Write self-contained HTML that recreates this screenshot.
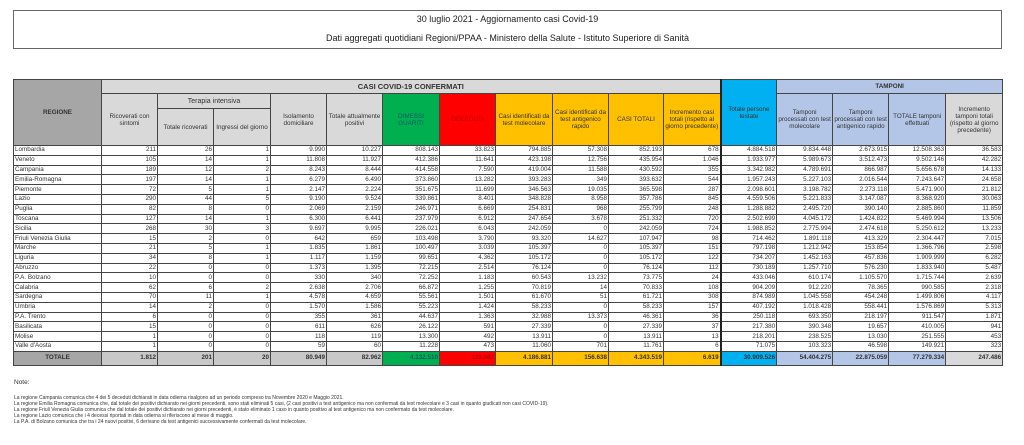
<!DOCTYPE html>
<html><head><meta charset="utf-8"><style>
*{margin:0;padding:0;box-sizing:border-box}
body{width:1024px;height:445px;background:#fff;font-family:"Liberation Sans",sans-serif;color:#333;position:relative;overflow:hidden}
#title{position:absolute;left:13px;top:10px;width:989px;height:39px;border:1px solid #666;text-align:center;font-size:9px;color:#222}
#title div{position:absolute;left:0;right:0}
table{position:absolute;left:13px;top:79px;border-collapse:collapse;table-layout:fixed;width:989px;font-size:6.3px}
td,th{border:1px solid #444;padding:0 1px;overflow:hidden;white-space:nowrap}
th{font-weight:normal;text-align:center;white-space:normal;line-height:7px;background:#d9d9d9}
tbody td{text-align:right;height:9.8px;line-height:8px}
tbody td:first-child{text-align:left}
.g{background:#00b050!important;color:#156}
.r{background:#f00!important;color:#b00}
.y{background:#ffc000!important}
.c{background:#00b0f0!important}
.b{background:#b4c6e7!important}
.gr{background:#d9d9d9!important}
.reg{background:#a6a6a6!important;font-weight:bold}
tr.tot td{background:#c8c8c8;font-weight:bold;height:14px;text-align:right}
tr.tot td:first-child{text-align:center}
.tk{border-left:2px solid #222}
#notes{position:absolute;left:14px;top:378px;font-size:5px;line-height:6px;color:#333}
</style></head><body>
<div id="title"><div style="top:3px">30 luglio 2021 - Aggiornamento casi Covid-19</div><div style="top:22px">Dati aggregati quotidiani Regioni/PPAA - Ministero della Salute - Istituto Superiore di Sanità</div></div>
<table>
<colgroup><col style="width:88px"><col style="width:56px"><col style="width:56px"><col style="width:57px"><col style="width:56px"><col style="width:56px"><col style="width:57px"><col style="width:56px"><col style="width:57px"><col style="width:56px"><col style="width:55px"><col style="width:57px"><col style="width:56px"><col style="width:56px"><col style="width:56px"><col style="width:57px"><col style="width:57px"></colgroup>
<thead>
<tr style="height:14px"><th rowspan="3" class="reg">REGIONE</th><th colspan="11" style="font-weight:bold;font-size:7.5px">CASI COVID-19 CONFERMATI</th><th rowspan="3" class="c tk">Totale persone testate</th><th colspan="4" class="b" style="font-weight:bold">TAMPONI</th></tr>
<tr style="height:15px"><th rowspan="2">Ricoverati con sintomi</th><th colspan="2" style="font-size:7px">Terapia intensiva</th><th rowspan="2">Isolamento domiciliare</th><th rowspan="2">Totale attualmente positivi</th><th rowspan="2" class="g">DIMESSI<br>GUARITI</th><th rowspan="2" class="r">DECEDUTI</th><th rowspan="2" class="y">Casi identificati da test molecolare</th><th rowspan="2" class="y">Casi identificati da test antigenico rapido</th><th rowspan="2" class="y">CASI TOTALI</th><th rowspan="2" class="y">Incremento casi totali (rispetto al giorno precedente)</th><th rowspan="2" class="b">Tamponi processati con test molecolare</th><th rowspan="2" class="b">Tamponi processati con test antigenico rapido</th><th rowspan="2" class="b">TOTALE tamponi effettuati</th><th rowspan="2" class="gr">Incremento tamponi totali (rispetto al giorno precedente)</th></tr>
<tr style="height:37px"><th>Totale ricoverati</th><th>Ingressi del giorno</th></tr>
</thead>
<tbody>
<tr><td>Lombardia</td><td>211</td><td>26</td><td>1</td><td>9.990</td><td>10.227</td><td>808.143</td><td>33.823</td><td>794.885</td><td>57.308</td><td>852.193</td><td>678</td><td class="tk">4.884.518</td><td>9.834.448</td><td>2.673.915</td><td>12.508.363</td><td>36.583</td></tr>
<tr><td>Veneto</td><td>105</td><td>14</td><td>1</td><td>11.808</td><td>11.927</td><td>412.386</td><td>11.641</td><td>423.198</td><td>12.756</td><td>435.954</td><td>1.046</td><td class="tk">1.933.977</td><td>5.989.673</td><td>3.512.473</td><td>9.502.146</td><td>42.282</td></tr>
<tr><td>Campania</td><td>189</td><td>12</td><td>2</td><td>8.243</td><td>8.444</td><td>414.558</td><td>7.590</td><td>419.004</td><td>11.588</td><td>430.592</td><td>355</td><td class="tk">3.342.982</td><td>4.789.691</td><td>866.987</td><td>5.656.678</td><td>14.133</td></tr>
<tr><td>Emilia-Romagna</td><td>197</td><td>14</td><td>1</td><td>6.279</td><td>6.490</td><td>373.860</td><td>13.282</td><td>393.283</td><td>349</td><td>393.632</td><td>544</td><td class="tk">1.957.243</td><td>5.227.103</td><td>2.016.544</td><td>7.243.647</td><td>24.658</td></tr>
<tr><td>Piemonte</td><td>72</td><td>5</td><td>1</td><td>2.147</td><td>2.224</td><td>351.675</td><td>11.699</td><td>346.563</td><td>19.035</td><td>365.598</td><td>287</td><td class="tk">2.098.601</td><td>3.198.782</td><td>2.273.118</td><td>5.471.900</td><td>21.812</td></tr>
<tr><td>Lazio</td><td>290</td><td>44</td><td>5</td><td>9.190</td><td>9.524</td><td>339.861</td><td>8.401</td><td>348.828</td><td>8.958</td><td>357.786</td><td>845</td><td class="tk">4.559.506</td><td>5.221.833</td><td>3.147.087</td><td>8.368.920</td><td>30.063</td></tr>
<tr><td>Puglia</td><td>82</td><td>8</td><td>0</td><td>2.069</td><td>2.159</td><td>246.971</td><td>6.669</td><td>254.831</td><td>968</td><td>255.799</td><td>248</td><td class="tk">1.288.882</td><td>2.495.720</td><td>390.140</td><td>2.885.860</td><td>11.859</td></tr>
<tr><td>Toscana</td><td>127</td><td>14</td><td>1</td><td>6.300</td><td>6.441</td><td>237.979</td><td>6.912</td><td>247.654</td><td>3.678</td><td>251.332</td><td>720</td><td class="tk">2.502.699</td><td>4.045.172</td><td>1.424.822</td><td>5.469.994</td><td>13.506</td></tr>
<tr><td>Sicilia</td><td>268</td><td>30</td><td>3</td><td>9.697</td><td>9.995</td><td>226.021</td><td>6.043</td><td>242.059</td><td>0</td><td>242.059</td><td>724</td><td class="tk">1.988.852</td><td>2.775.994</td><td>2.474.618</td><td>5.250.612</td><td>13.233</td></tr>
<tr><td>Friuli Venezia Giulia</td><td>15</td><td>2</td><td>0</td><td>642</td><td>659</td><td>103.498</td><td>3.790</td><td>93.320</td><td>14.627</td><td>107.947</td><td>98</td><td class="tk">714.462</td><td>1.891.118</td><td>413.329</td><td>2.304.447</td><td>7.015</td></tr>
<tr><td>Marche</td><td>21</td><td>5</td><td>1</td><td>1.835</td><td>1.861</td><td>100.497</td><td>3.039</td><td>105.397</td><td>0</td><td>105.397</td><td>151</td><td class="tk">797.198</td><td>1.212.942</td><td>153.854</td><td>1.366.796</td><td>2.598</td></tr>
<tr><td>Liguria</td><td>34</td><td>8</td><td>1</td><td>1.117</td><td>1.159</td><td>99.651</td><td>4.362</td><td>105.172</td><td>0</td><td>105.172</td><td>122</td><td class="tk">734.207</td><td>1.452.163</td><td>457.836</td><td>1.909.999</td><td>6.282</td></tr>
<tr><td>Abruzzo</td><td>22</td><td>0</td><td>0</td><td>1.373</td><td>1.395</td><td>72.215</td><td>2.514</td><td>76.124</td><td>0</td><td>76.124</td><td>112</td><td class="tk">730.189</td><td>1.257.710</td><td>576.230</td><td>1.833.940</td><td>5.487</td></tr>
<tr><td>P.A. Bolzano</td><td>10</td><td>0</td><td>0</td><td>330</td><td>340</td><td>72.252</td><td>1.183</td><td>60.543</td><td>13.232</td><td>73.775</td><td>24</td><td class="tk">433.046</td><td>610.174</td><td>1.105.570</td><td>1.715.744</td><td>2.639</td></tr>
<tr><td>Calabria</td><td>62</td><td>6</td><td>2</td><td>2.638</td><td>2.706</td><td>66.872</td><td>1.255</td><td>70.819</td><td>14</td><td>70.833</td><td>108</td><td class="tk">904.209</td><td>912.220</td><td>78.365</td><td>990.585</td><td>2.318</td></tr>
<tr><td>Sardegna</td><td>70</td><td>11</td><td>1</td><td>4.578</td><td>4.659</td><td>55.561</td><td>1.501</td><td>61.670</td><td>51</td><td>61.721</td><td>308</td><td class="tk">874.989</td><td>1.045.558</td><td>454.248</td><td>1.499.806</td><td>4.117</td></tr>
<tr><td>Umbria</td><td>14</td><td>2</td><td>0</td><td>1.570</td><td>1.586</td><td>55.223</td><td>1.424</td><td>58.233</td><td>0</td><td>58.233</td><td>157</td><td class="tk">407.192</td><td>1.018.428</td><td>558.441</td><td>1.576.869</td><td>5.313</td></tr>
<tr><td>P.A. Trento</td><td>6</td><td>0</td><td>0</td><td>355</td><td>361</td><td>44.637</td><td>1.363</td><td>32.988</td><td>13.373</td><td>46.361</td><td>36</td><td class="tk">250.118</td><td>693.350</td><td>218.197</td><td>911.547</td><td>1.871</td></tr>
<tr><td>Basilicata</td><td>15</td><td>0</td><td>0</td><td>611</td><td>626</td><td>26.122</td><td>591</td><td>27.339</td><td>0</td><td>27.339</td><td>37</td><td class="tk">217.380</td><td>390.348</td><td>19.657</td><td>410.005</td><td>941</td></tr>
<tr><td>Molise</td><td>1</td><td>0</td><td>0</td><td>118</td><td>119</td><td>13.300</td><td>492</td><td>13.911</td><td>0</td><td>13.911</td><td>13</td><td class="tk">218.201</td><td>238.525</td><td>13.030</td><td>251.555</td><td>453</td></tr>
<tr><td>Valle d'Aosta</td><td>1</td><td>0</td><td>0</td><td>59</td><td>60</td><td>11.228</td><td>473</td><td>11.060</td><td>701</td><td>11.761</td><td>6</td><td class="tk">71.075</td><td>103.323</td><td>46.598</td><td>149.921</td><td>323</td></tr>
<tr class="tot"><td class="reg">TOTALE</td><td>1.812</td><td>201</td><td>20</td><td>80.949</td><td>82.962</td><td class="g">4.132.510</td><td class="r">128.047</td><td class="y">4.186.881</td><td class="y">156.638</td><td class="y">4.343.519</td><td class="y">6.619</td><td class="c tk">30.909.526</td><td class="b">54.404.275</td><td class="b">22.875.059</td><td class="b">77.279.334</td><td class="gr">247.486</td></tr>
</tbody></table>
<div style="position:absolute;left:14px;top:379px;font-size:6.5px;color:#333">Note:</div>
<div id="notes" style="top:395px">
La regione Campania comunica che 4 dei 5 deceduti dichiarati in data odierna risalgono ad un periodo compreso tra Novembre 2020 e Maggio 2021.<br>
La regione Emilia Romagna comunica che, dal totale dei positivi dichiarato nei giorni precedenti, sono stati eliminati 5 casi, (2 casi positivi a test antigenico ma non confermati da test molecolare e 3 casi in quanto giudicati non casi COVID-19).<br>
La regione Friuli Venezia Giulia comunica che dal totale dei positivi dichiarato nei giorni precedenti, è stato eliminato 1 caso in quanto positivo al test antigenico ma non confermato da test molecolare.<br>
La regione Lazio comunica che i 4 decessi riportati in data odierna si riferiscono al mese di maggio.<br>
La P.A. di Bolzano comunica che tra i 24 nuovi positivi, 6 derivano da test antigenici successivamente confermati da test molecolare.
</div>
</body></html>
